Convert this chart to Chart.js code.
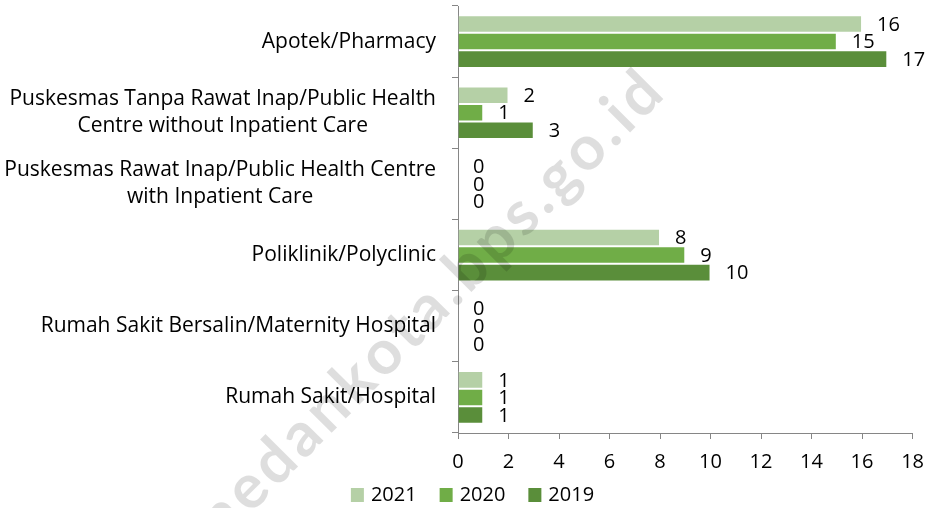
<!DOCTYPE html>
<html>
<head>
<meta charset="utf-8">
<script src="https://cdn.jsdelivr.net/npm/chart.js@4.4.0/dist/chart.umd.min.js"></script>
<style>
  html, body { margin: 0; padding: 0; background: #fff; }
  #wrap { width: 935px; height: 508px; position: relative; }
</style>
</head>
<body>
<div id="wrap"><canvas id="chart"></canvas></div>
<script>
// Categories top to bottom, each split into its display lines
const CATEGORIES = [
  ['Apotek/Pharmacy'],
  ['Puskesmas Tanpa Rawat Inap/Public Health', 'Centre without Inpatient Care'],
  ['Puskesmas Rawat Inap/Public Health Centre', 'with Inpatient Care'],
  ['Poliklinik/Polyclinic'],
  ['Rumah Sakit Bersalin/Maternity Hospital'],
  ['Rumah Sakit/Hospital'],
];
const SERIES_NAMES = ['2021', '2020', '2019'];
const VALUES_2021  = [16, 2, 0, 8, 0, 1];
const VALUES_2020  = [15, 1, 0, 9, 0, 1];
const VALUES_2019  = [17, 3, 0, 10, 0, 1];
const X_MIN = 0, X_MAX = 18, X_STEP = 2;
const WATERMARK = 'medankota.bps.go.id';

const FONT   = '"Open Sans"';
const FSIZE  = 20;   // ticks, values, legend
const CSIZE  = 21;   // category labels
const AXIS_C = '#868686';
const COLORS = ['#b5d0a6', '#70ad47', '#5a8e3a'];

// faint diagonal site watermark laid over the chart
const watermark = {
  id: 'watermark',
  afterDraw(chart) {
    const ctx = chart.ctx;
    const fs = 62;
    ctx.save();
    ctx.font = `bold ${fs}px Lato, sans-serif`;
    const chars = WATERMARK.split('');
    const w = chars.map(c => ctx.measureText(c).width);
    // anchor: centre of 'e' (index 1) and of the 'o' in "go" (index 15)
    const a = { x: 250, y: 492 }, b = { x: 587, y: 153 };
    const dist = Math.hypot(b.x - a.x, b.y - a.y);
    let natural = w[1] / 2 + w[15] / 2;
    for (let j = 2; j < 15; j++) natural += w[j];
    const sp = (dist - natural) / 14;
    ctx.translate(a.x, a.y);
    ctx.rotate(Math.atan2(b.y - a.y, b.x - a.x));
    ctx.fillStyle = 'rgba(0,0,0,0.13)';
    ctx.textAlign = 'center';
    ctx.textBaseline = 'alphabetic';
    let x = -(w[0] + sp + w[1] / 2);
    chars.forEach((c, i) => {
      ctx.fillText(c, x + w[i] / 2, 0.26 * fs);
      x += w[i] + sp;
    });
    ctx.restore();
  }
};

// Excel-style category labels: lines centred on each other, block right-aligned at the axis
const catLabels = {
  id: 'catLabels',
  afterDraw(chart) {
    const ctx = chart.ctx, ys = chart.scales.y;
    const right = ys.right - 22, lh = 27;
    ctx.save();
    ctx.font = `${CSIZE}px ${FONT}`;
    ctx.fillStyle = '#000';
    ctx.textAlign = 'center';
    ctx.textBaseline = 'middle';
    chart.data.labels.forEach((lines, i) => {
      const w  = Math.max(...lines.map(l => ctx.measureText(l).width));
      const cx = right - w / 2;
      const y0 = ys.getPixelForValue(i) - (lines.length - 1) * lh / 2;
      lines.forEach((l, k) => ctx.fillText(l, cx, y0 + k * lh));
    });
    ctx.restore();
  }
};

// value labels just past the end of each bar
const barValues = {
  id: 'barValues',
  afterDatasetsDraw(chart) {
    const ctx = chart.ctx;
    ctx.save();
    ctx.font = `${FSIZE}px ${FONT}`;
    ctx.fillStyle = '#000';
    ctx.textAlign = 'left';
    ctx.textBaseline = 'middle';
    chart.data.datasets.forEach((ds, di) => {
      chart.getDatasetMeta(di).data.forEach((bar, i) => {
        ctx.fillText(String(ds.data[i]), bar.x + 15, bar.y + 1);
      });
    });
    ctx.restore();
  }
};

// legend row under the axis, centred on the canvas
const legendRow = {
  id: 'legendRow',
  afterDraw(chart) {
    const ctx = chart.ctx;
    const box = 13, gap = 7, between = 23, cy = 495;
    ctx.save();
    ctx.font = `${FSIZE}px ${FONT}`;
    ctx.textAlign = 'left';
    ctx.textBaseline = 'middle';
    const items = chart.data.datasets.map(ds => ({ text: ds.label, color: ds.backgroundColor, w: ctx.measureText(ds.label).width }));
    const total = items.reduce((s, it) => s + box + gap + it.w, 0) + between * (items.length - 1);
    let x = chart.width / 2 + 5 - total / 2;
    items.forEach(it => {
      ctx.fillStyle = it.color;
      ctx.fillRect(x, cy - 7, box, 14);
      ctx.fillStyle = '#000';
      ctx.fillText(it.text, x + box + gap, cy);
      x += box + gap + it.w + between;
    });
    ctx.restore();
  }
};

new Chart(document.getElementById('chart'), {
  type: 'bar',
  data: {
    labels: CATEGORIES,
    datasets: [
      { label: SERIES_NAMES[0], data: VALUES_2021, backgroundColor: COLORS[0] },
      { label: SERIES_NAMES[1], data: VALUES_2020, backgroundColor: COLORS[1] },
      { label: SERIES_NAMES[2], data: VALUES_2019, backgroundColor: COLORS[2] },
    ],
  },
  options: {
    indexAxis: 'y',
    responsive: true, maintainAspectRatio: false, animation: false,
    layout: { padding: { left: 0, right: 20, top: 6, bottom: 23 } },
    datasets: { bar: { categoryPercentage: 0.74, barPercentage: 1, borderWidth: 1, borderColor: 'rgba(255,255,255,0.45)' } },
    plugins: {
      legend: { display: false },
      tooltip: { enabled: false },
    },
    scales: {
      y: {
        afterFit: s => { s.width = 458; },
        ticks: { display: false },
        grid: { drawOnChartArea: false, tickLength: 6, color: AXIS_C },
        border: { color: AXIS_C },
      },
      x: {
        min: X_MIN, max: X_MAX,
        ticks: { stepSize: X_STEP, padding: 11, color: '#000', font: { family: FONT, size: FSIZE } },
        grid: { drawOnChartArea: false, tickLength: 6, color: AXIS_C },
        border: { color: AXIS_C },
      },
    },
  },
  plugins: [catLabels, barValues, legendRow, watermark],
});
</script>
</body>
</html>
